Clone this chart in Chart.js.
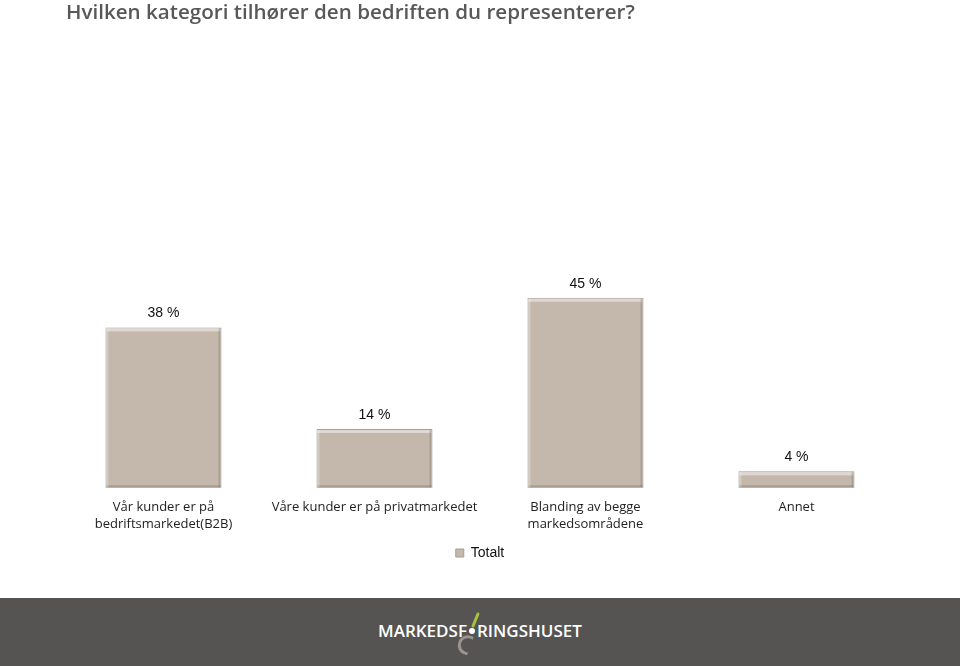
<!DOCTYPE html>
<html>
<head>
<meta charset="utf-8">
<script src="https://cdn.jsdelivr.net/npm/chart.js@4/dist/chart.umd.min.js"></script>
<style>
  html, body { margin: 0; padding: 0; background: #fff; }
  body { width: 960px; height: 666px; overflow: hidden; position: relative; }
  #wrap { position: absolute; left: 0; top: 0; width: 960px; height: 598px; }
  #title { position: absolute; left: 66px; top: -3px; color: #585858; font-family: "Open Sans", sans-serif; font-weight: 600; font-size: 20.6px; white-space: nowrap; }
  #footer { position: absolute; left: 0; top: 598px; width: 960px; height: 68px; background: #565452; }
  #logo { position: absolute; left: 378px; top: 21px; color: #fff; font-family: "Open Sans", sans-serif; font-weight: 600; font-size: 17px; letter-spacing: 0; white-space: nowrap; }
  #logo .dot { display: inline-block; width: 6px; height: 6px; border-radius: 3px; background: #fff; margin: 0 2px 3px 2px; }
  #slash { position: absolute; left: 474px; top: 14px; width: 3px; height: 16px; background: #a6c13a; transform: rotate(22deg); border-radius: 2px; }
  #hook { position: absolute; left: 458px; top: 36px; width: 10px; height: 14px; border: 3px solid #9a948e; border-right: none; border-radius: 10px 0 0 10px; transform: rotate(20deg); }
</style>
</head>
<body>
<div id="wrap"><canvas id="chart"></canvas></div>
<div id="title"></div>
<div id="footer">
  <div id="slash"></div>
  <div id="hook"></div>
  <div id="logo">MARKEDSF<span class="dot"></span>RINGSHUSET</div>
</div>
<script>
const titleText = 'Hvilken kategori tilhører den bedriften du representerer?';
const categories = [
  ['Vår kunder er på', 'bedriftsmarkedet(B2B)'],
  'Våre kunder er på privatmarkedet',
  ['Blanding av begge', 'markedsområdene'],
  'Annet'
];
const seriesName = 'Totalt';
const totalt = [38, 14, 45, 4];

document.getElementById('title').textContent = titleText;

const valueLabels = {
  id: 'valueLabels',
  afterDatasetsDraw(chart) {
    const ctx = chart.ctx;
    const meta = chart.getDatasetMeta(0);
    ctx.save();
    ctx.font = '14px "Liberation Sans", Arial, sans-serif';
    ctx.fillStyle = '#111';
    ctx.textAlign = 'center';
    ctx.textBaseline = 'bottom';
    meta.data.forEach((bar, i) => {
      ctx.fillText(totalt[i] + ' %', bar.x, bar.y - 7);
    });
    ctx.restore();
  }
};

// light bevel on the edges of each bar
const bevel = {
  id: 'bevel',
  afterDatasetsDraw(chart) {
    const ctx = chart.ctx;
    const meta = chart.getDatasetMeta(0);
    ctx.save();
    meta.data.forEach(bar => {
      const l = bar.x - bar.width / 2, r = bar.x + bar.width / 2;
      const t = bar.y, b = bar.base;
      ctx.fillStyle = 'rgba(255,255,255,0.45)';
      ctx.fillRect(l + 1, t + 1, r - l - 2, 3);
      ctx.fillStyle = 'rgba(90,80,70,0.25)';
      ctx.fillRect(l + 1, b - 3, r - l - 2, 2);
      ctx.fillRect(r - 3, t + 1, 2, b - t - 2);
      ctx.fillStyle = 'rgba(255,255,255,0.25)';
      ctx.fillRect(l + 1, t + 1, 2, b - t - 2);
    });
    ctx.restore();
  }
};

new Chart(document.getElementById('chart'), {
  type: 'bar',
  data: {
    labels: categories,
    datasets: [{
      label: seriesName,
      data: totalt,
      backgroundColor: '#c4b8ac',
      borderColor: '#a49c95',
      borderWidth: 1,
      categoryPercentage: 1,
      barPercentage: 0.55
    }]
  },
  options: {
    responsive: true,
    maintainAspectRatio: false,
    animation: false,
    layout: { padding: { left: 58, right: 58, top: 65, bottom: 28 } },
    plugins: {
      title: { display: false },
      legend: {
        display: true,
        position: 'bottom',
        labels: {
          boxWidth: 8, boxHeight: 8,
          color: '#111',
          font: { family: '"Liberation Sans", Arial, sans-serif', size: 14 },
          padding: 10
        }
      },
      tooltip: { enabled: false }
    },
    scales: {
      x: {
        grid: { display: false },
        border: { display: false },
        ticks: {
          color: '#222',
          font: { family: '"Open Sans", sans-serif', size: 13, lineHeight: 1.3 },
          maxRotation: 0,
          padding: 3
        }
      },
      y: {
        display: false,
        min: 0,
        max: 100
      }
    }
  },
  plugins: [valueLabels, bevel]
});
</script>
</body>
</html>
